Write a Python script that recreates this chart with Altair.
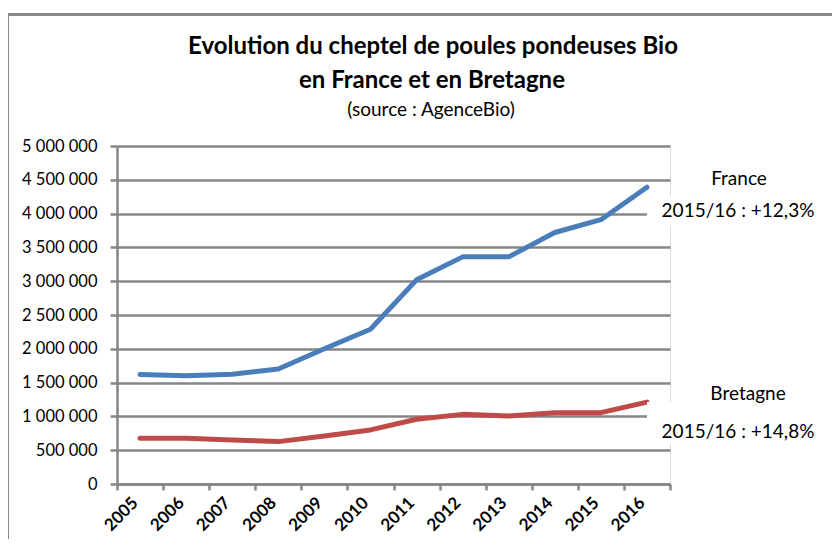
import altair as alt
import pandas as pd

years = ["2005", "2006", "2007", "2008", "2009", "2010", "2011", "2012", "2013", "2014", "2015", "2016"]
france = [1620000, 1600000, 1625000, 1700000, 2000000, 2290000, 3020000, 3360000, 3360000, 3720000, 3910000, 4390000]
bretagne = [675000, 675000, 652000, 627000, 710000, 800000, 958000, 1030000, 1005000, 1055000, 1055000, 1212000]
series_names = ["France", "Bretagne"]
series_colors = ["#4A7EBB", "#BE4B48"]
y_ticks = [0, 500000, 1000000, 1500000, 2000000, 2500000, 3000000, 3500000, 4000000, 4500000, 5000000]
title_lines = ["Evolution du cheptel de poules pondeuses Bio", "en France et en Bretagne"]
subtitle_text = "(source : AgenceBio)"
annot_names = ["France", "2015/16 : +12,3%", "Bretagne", "2015/16 : +14,8%"]

FONT = "Lato"
GRID = "#868686"
W, H = 553, 338

rows = []
for name, vals in zip(series_names, [france, bretagne]):
    for y, v in zip(years, vals):
        rows.append({"annee": y, "valeur": v, "serie": name})
df = pd.DataFrame(rows)

lines = alt.Chart(df).mark_line(strokeWidth=5, strokeCap="round", strokeJoin="round").encode(
    x=alt.X("annee:O", sort=years,
            scale=alt.Scale(type="band", paddingInner=0, paddingOuter=0),
            axis=alt.Axis(title=None, tickBand="extent", labelAngle=315,
                          labelAlign="right", labelBaseline="middle",
                          labelFont=FONT, labelFontSize=17, labelFontWeight="bold",
                          labelColor="black", labelPadding=10, labelOffset=-5,
                          domainColor=GRID, domainWidth=2.5, tickColor=GRID,
                          tickWidth=2.5, tickSize=6, grid=False)),
    y=alt.Y("valeur:Q", scale=alt.Scale(domain=[0, 5000000], nice=False),
            axis=alt.Axis(title=None, values=y_ticks, format=",.0f",
                          labelFont=FONT, labelFontSize=16.5, labelColor="black",
                          labelPadding=13, domainColor=GRID, domainWidth=2.5,
                          tickColor=GRID, tickWidth=2.5, tickSize=7,
                          gridColor=GRID, gridWidth=2.5)),
    color=alt.Color("serie:N", scale=alt.Scale(domain=series_names, range=series_colors), legend=None),
)

one = pd.DataFrame({"k": [0]})

# white boxes behind the annotations (they hide the end of some grid lines)
box1 = alt.Chart(one).mark_rect(fill="white").encode(
    x=alt.value(530), x2=alt.value(720), y=alt.value(50), y2=alt.value(80))
box2 = alt.Chart(one).mark_rect(fill="white").encode(
    x=alt.value(530), x2=alt.value(720), y=alt.value(256), y2=alt.value(298))

def txt(t, x, y, size, weight="normal"):
    return alt.Chart(pd.DataFrame({"t": [t]})).mark_text(
        font=FONT, fontSize=size, fontWeight=weight, color="black",
        align="center", baseline="alphabetic").encode(
        text="t:N", x=alt.value(x), y=alt.value(y))

annots = [
    txt(annot_names[0], 622, 39, 19),
    txt(annot_names[1], 621, 71, 19),
    txt(annot_names[2], 631, 254, 19),
    txt(annot_names[3], 621, 292, 19),
]
titles = [
    txt(title_lines[0], 316, -92, 24, "bold"),
    txt(title_lines[1], 315, -58, 24, "bold"),
    txt(subtitle_text, 314, -30, 19),
]

frame = alt.Chart(one).mark_rect(fill=None, stroke="#8A8A8A", strokeWidth=3).encode(
    x=alt.value(-109.5), x2=alt.value(2000), y=alt.value(-131.5), y2=alt.value(2000))

chart = alt.layer(frame, lines, box1, box2, *annots, *titles).properties(
    width=W, height=H,
    autosize=alt.AutoSizeParams(type="none"),
    padding={"left": 109, "top": 138, "right": 162, "bottom": 55},
).configure_view(stroke=None).configure(
    locale={"number": {"decimal": ",", "thousands": " ", "grouping": [3], "currency": ["", " €"]}}
)

chart.save("out.html", embed_options={"renderer": "svg", "actions": False})
